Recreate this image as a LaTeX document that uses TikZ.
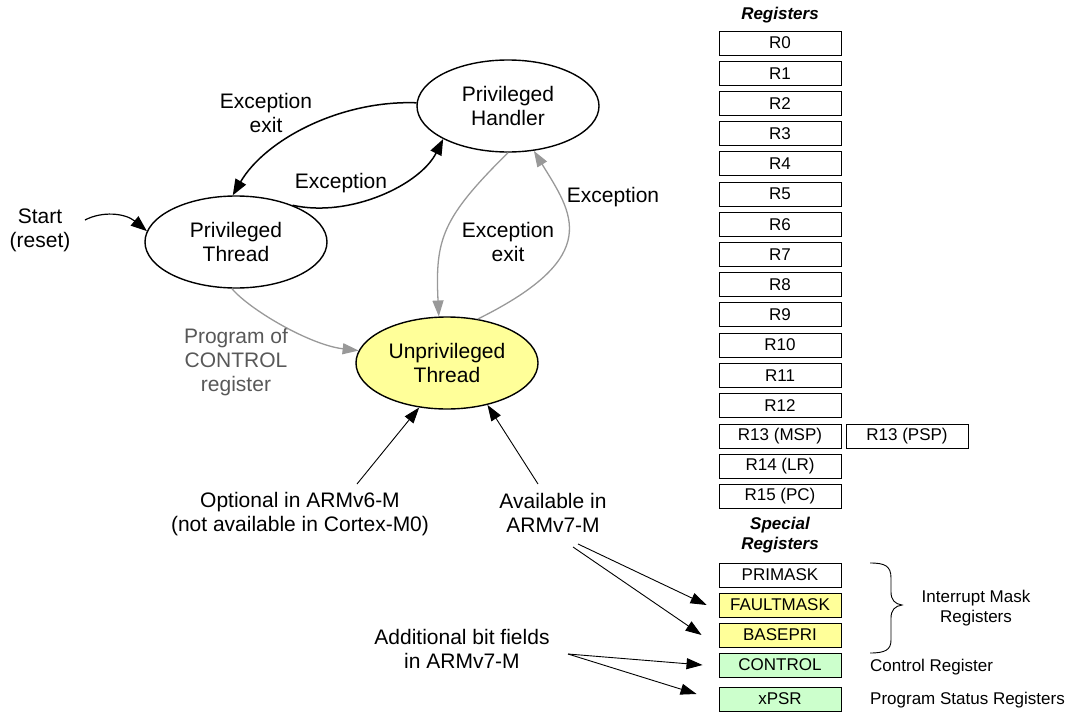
\documentclass[tikz,border=0pt]{standalone}
\usepackage{fontspec}
\setmainfont{Liberation Sans}
\usetikzlibrary{shapes.geometric,arrows.meta}
\definecolor{yel}{HTML}{FFFF99}
\definecolor{grn}{HTML}{CCFFCC}
\definecolor{garrow}{HTML}{999999}
\definecolor{gtext}{HTML}{585858}
\begin{document}
\begin{tikzpicture}[x=1pt,y=-1pt,
  stnode/.style={ellipse,draw,line width=1.4pt,minimum width=182pt,minimum height=92pt,inner sep=0pt,align=center,font=\fontsize{21}{24}\selectfont},
  lbl/.style={align=center,font=\fontsize{21}{24}\selectfont},
  reg/.style={draw,line width=0.9pt,minimum width=122pt,minimum height=24pt,inner sep=0pt,font=\fontsize{17}{19}\selectfont},
  small/.style={align=center,inner sep=0pt,font=\fontsize{17}{20}\selectfont},
  heading/.style={align=center,font=\bfseries\itshape\fontsize{17}{20}\selectfont},
  bigarr/.style={-{Triangle[length=16pt,width=12pt]},line width=1.5pt},
  grayarr/.style={-{Triangle[length=16pt,width=11pt]},draw=garrow,line width=1.3pt},
  thinarr/.style={-{Triangle[length=16pt,width=11pt]},line width=0.9pt}
]
\useasboundingbox (0,0) rectangle (1069,712);

% states
\node[stnode] (pt) at (236,242) {Privileged\\Thread};
\node[stnode] (ph) at (508,106) {Privileged\\Handler};
\node[stnode,fill=yel] (ut) at (447,363) {Unprivileged\\Thread};

% labels
\node[lbl] (l1) at (266,113) {Exception\\exit};
\node[lbl] (l2) at (341,183) {Exception};
\node[lbl] (ls) at (40,230) {Start\\(reset)};
\node[lbl] (l3) at (508,242) {Exception\\exit};
\node[lbl] (l4) at (613,197) {Exception};
\node[lbl,text=gtext] (l5) at (236,362) {Program of\\CONTROL\\register};
\node[lbl] (opt) at (300,514) {Optional in ARMv6-M\\(not available in Cortex-M0)};
\node[lbl] (av) at (553,513) {Available in\\ARMv7-M};
\node[lbl] (ab) at (462,649) {Additional bit fields\\in ARMv7-M};

% registers
\node[heading] (hreg) at (780,15) {Registers};
\foreach \i in {0,...,12} {
  \node[reg] (r\i) at (780,{43+30.2*\i}) {R\i};
}
\node[reg] (r13) at (780,436) {R13 (MSP)};
\node[reg] (psp) at (907,436) {R13 (PSP)};
\node[reg] (r14) at (780,466) {R14 (LR)};
\node[reg] (r15) at (780,496) {R15 (PC)};
\node[heading] (hsp) at (780,535) {Special\\Registers};
\node[reg] (pm) at (780,575) {PRIMASK};
\node[reg,fill=yel] (fm) at (780,605) {FAULTMASK};
\node[reg,fill=yel] (bp) at (780,635) {BASEPRI};
\node[reg,fill=grn] (ctl) at (780,665) {CONTROL};
\node[reg,fill=grn] (xp) at (780,699) {xPSR};

% legends
\node[small] (im) at (976,608) {Interrupt Mask\\Registers};
\node[small,anchor=west] (cr) at (870,667) {Control Register};
\node[small,anchor=west] (ps) at (870,700) {Program Status Registers};
\draw[line width=0.9pt] (870,563) .. controls (885,563) and (891,566) .. (891,578) -- (891,592)
  .. controls (891,600) and (895,604) .. (902,605)
  .. controls (895,606) and (891,610) .. (891,618) -- (891,640)
  .. controls (891,650) and (885,653) .. (870,653);

% connectors
\coordinate (s0) at (85,220);
\draw[bigarr,line width=1.2pt] (s0) .. controls (102,211) and (125,213) .. (pt.173);
\draw[bigarr] (ph.178) .. controls (340,100) and (265,140) .. (pt.94);
\draw[bigarr] (pt.33) .. controls (350,218) and (420,185) .. (ph.207);
\draw[grayarr] (ph.270) .. controls (442,218) and (435,239) .. (ut.100);
\draw[grayarr] (ut.55) .. controls (605,256) and (572,213) .. (ph.300);
\draw[grayarr] (pt.265) .. controls (250,310) and (310,345) .. (ut.172);

\coordinate (o1) at (357,484);
\draw[thinarr] (o1) -- (ut.238);
\coordinate (a0) at (538,484);
\draw[thinarr] (a0) -- (ut.314);
\coordinate (a1) at (578,544);
\draw[thinarr] (a1) -- ([xshift=-12pt]fm.west);
\coordinate (a2) at (573,547);
\draw[thinarr] (a2) -- ([xshift=-17pt]bp.west);
\coordinate (b0) at (568,654);
\draw[thinarr] (b0) -- ([xshift=-16pt]ctl.west);
\draw[thinarr] (b0) -- ([xshift=-22pt,yshift=5pt]xp.west);
\end{tikzpicture}
\end{document}
